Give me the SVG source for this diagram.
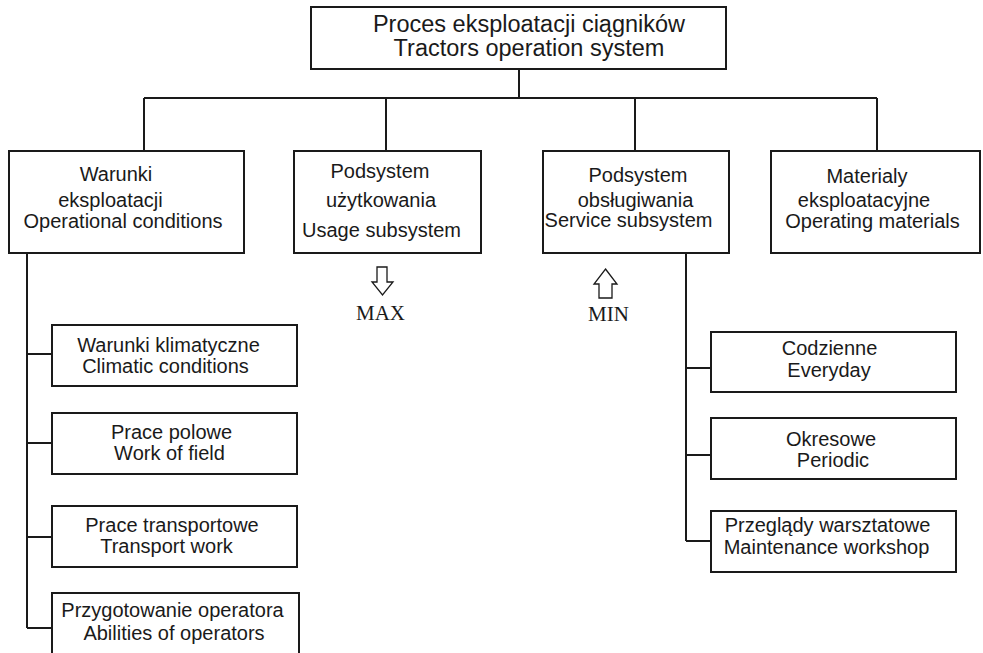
<svg xmlns="http://www.w3.org/2000/svg" width="983" height="653" viewBox="0 0 983 653">
<style>
rect.box{fill:#fff;stroke:#1a1a1a;stroke-width:2}
.t{font-family:"Liberation Sans",Arial,sans-serif;font-size:20px;fill:#1a1a1a;text-anchor:middle}
.title{font-size:23.5px}
.s{font-family:"Liberation Serif","Times New Roman",serif;font-size:21px;fill:#1a1a1a;text-anchor:middle}
#connectors path{fill:none;stroke:#1a1a1a;stroke-width:2}
.arr{fill:#fff;stroke:#1a1a1a;stroke-width:1.3}
</style>
<rect width="983" height="653" fill="#fff"/>
<g id="connectors">
<path d="M519,69 V98 M144,98 H877 M144,98 V151 M386,98 V151 M635,98 V151 M877,98 V151"/>
<path d="M27,253 V628 M27,354 H52 M27,443 H52 M27,537 H52 M27,628 H52"/>
<path d="M686,253 V541 M686,368 H711 M686,455 H711 M686,541 H711"/>
</g>
<g id="root">
<rect class="box" x="311" y="7" width="415" height="62"/>
<text class="t title" x="529" y="31.5">Proces eksploatacji ciągników</text>
<text class="t title" x="529" y="56">Tractors operation system</text>
</g>
<g id="warunki">
<rect class="box" x="9" y="151" width="235" height="102"/>
<text class="t" x="116" y="181">Warunki</text>
<text class="t" x="110.5" y="207">eksploatacji</text>
<text class="t" x="123" y="228">Operational conditions</text>
</g>
<g id="uzytkowania">
<rect class="box" x="294" y="151" width="187" height="102"/>
<text class="t" x="380" y="178">Podsystem</text>
<text class="t" x="381" y="207">użytkowania</text>
<text class="t" x="381.5" y="237">Usage subsystem</text>
</g>
<g id="obslugiwania">
<rect class="box" x="543" y="151" width="186" height="102"/>
<text class="t" x="638" y="182">Podsystem</text>
<text class="t" x="635.5" y="207">obsługiwania</text>
<text class="t" x="628.5" y="227">Service subsystem</text>
</g>
<g id="materialy">
<rect class="box" x="771" y="151" width="209" height="102"/>
<text class="t" x="867" y="183">Materialy</text>
<text class="t" x="864" y="207">eksploatacyjne</text>
<text class="t" x="872.5" y="228">Operating materials</text>
</g>
<g id="max">
<path class="arr" d="M377,267 H387 V282 H393 L382.5,295 L372,282 H377 Z"/>
<text class="s" x="380.5" y="320">MAX</text>
</g>
<g id="min">
<path class="arr" d="M605.5,269 L617,284 H612 V298 H599 V284 H594 Z"/>
<text class="s" x="608.5" y="321">MIN</text>
</g>
<g id="klimatyczne">
<rect class="box" x="52" y="325" width="245" height="61"/>
<text class="t" x="168.5" y="352">Warunki klimatyczne</text>
<text class="t" x="165.5" y="373">Climatic conditions</text>
</g>
<g id="polowe">
<rect class="box" x="52" y="413" width="245" height="61"/>
<text class="t" x="171.5" y="439">Prace polowe</text>
<text class="t" x="169.5" y="460">Work of field</text>
</g>
<g id="transportowe">
<rect class="box" x="52" y="506" width="245" height="61"/>
<text class="t" x="172" y="532">Prace transportowe</text>
<text class="t" x="166.5" y="553">Transport work</text>
</g>
<g id="operatora">
<rect class="box" x="52" y="593" width="247" height="70"/>
<text class="t" x="172.5" y="617">Przygotowanie operatora</text>
<text class="t" x="174" y="640">Abilities of operators</text>
</g>
<g id="codzienne">
<rect class="box" x="711" y="332" width="245" height="60"/>
<text class="t" x="829.5" y="355">Codzienne</text>
<text class="t" x="829" y="377">Everyday</text>
</g>
<g id="okresowe">
<rect class="box" x="711" y="418" width="245" height="61"/>
<text class="t" x="831" y="446">Okresowe</text>
<text class="t" x="833" y="467">Periodic</text>
</g>
<g id="warsztatowe">
<rect class="box" x="711" y="511" width="245" height="61"/>
<text class="t" x="827.5" y="532">Przeglądy warsztatowe</text>
<text class="t" x="826.5" y="553.5">Maintenance workshop</text>
</g>
</svg>
